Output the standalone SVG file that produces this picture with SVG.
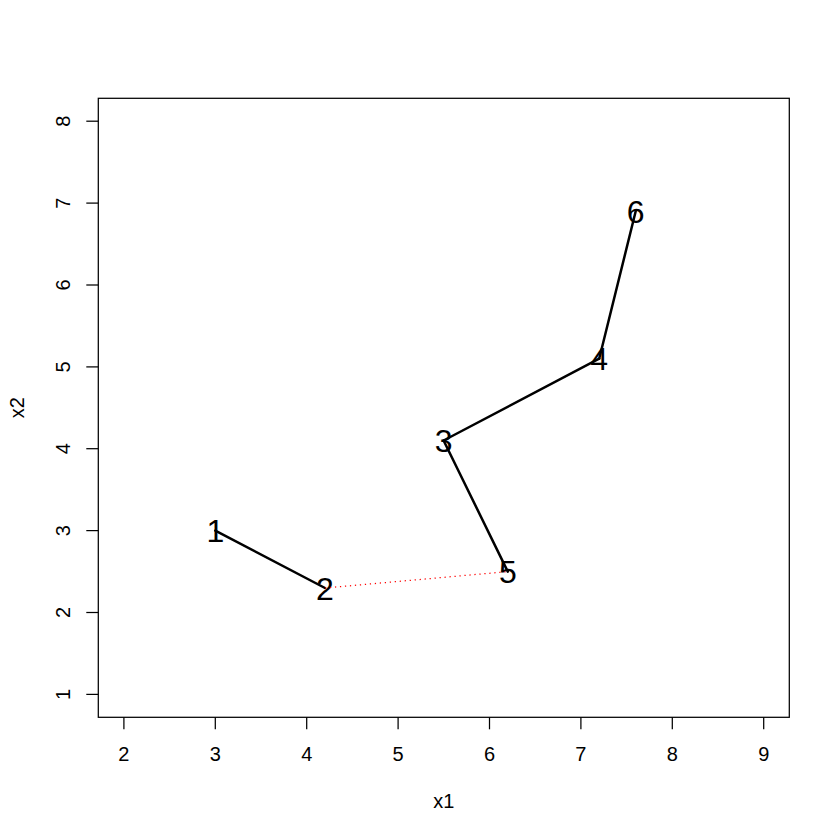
<svg xmlns="http://www.w3.org/2000/svg" width="840" height="840" viewBox="0 0 840 840">
<style>
  text { font-family: "Liberation Sans", Arial, sans-serif; fill: #000; }
  .tick { font-size: 20px; text-anchor: middle; }
  .axl { font-size: 20px; text-anchor: middle; }
  .pt { font-size: 32px; text-anchor: middle; }
  .ax line { stroke: #000; stroke-width: 1.25; }
  .edge { stroke: #000; stroke-width: 2.5; fill: none; stroke-linecap: round; }
  .dot { stroke: #ff0000; stroke-width: 1.25; stroke-dasharray: 1.25 3.75; fill: none; }
</style>
<rect width="840" height="840" fill="#fff"/>
<g id="frame">
  <rect x="98.3" y="98.3" width="691" height="619" fill="none" stroke="#000" stroke-width="1.25"/>
</g>
<g id="x-axis" class="ax">
  <line x1="123.9" y1="717.3" x2="123.9" y2="729.3"/>
  <line x1="215.3" y1="717.3" x2="215.3" y2="729.3"/>
  <line x1="306.7" y1="717.3" x2="306.7" y2="729.3"/>
  <line x1="398.1" y1="717.3" x2="398.1" y2="729.3"/>
  <line x1="489.5" y1="717.3" x2="489.5" y2="729.3"/>
  <line x1="580.9" y1="717.3" x2="580.9" y2="729.3"/>
  <line x1="672.3" y1="717.3" x2="672.3" y2="729.3"/>
  <line x1="763.7" y1="717.3" x2="763.7" y2="729.3"/>
  <text class="tick" x="123.9" y="761">2</text>
  <text class="tick" x="215.3" y="761">3</text>
  <text class="tick" x="306.7" y="761">4</text>
  <text class="tick" x="398.1" y="761">5</text>
  <text class="tick" x="489.5" y="761">6</text>
  <text class="tick" x="580.9" y="761">7</text>
  <text class="tick" x="672.3" y="761">8</text>
  <text class="tick" x="763.7" y="761">9</text>
  <text class="axl" x="443.8" y="808">x1</text>
</g>
<g id="y-axis" class="ax">
  <line x1="86.3" y1="694.4" x2="98.3" y2="694.4"/>
  <line x1="86.3" y1="612.5" x2="98.3" y2="612.5"/>
  <line x1="86.3" y1="530.6" x2="98.3" y2="530.6"/>
  <line x1="86.3" y1="448.7" x2="98.3" y2="448.7"/>
  <line x1="86.3" y1="366.9" x2="98.3" y2="366.9"/>
  <line x1="86.3" y1="285.0" x2="98.3" y2="285.0"/>
  <line x1="86.3" y1="203.1" x2="98.3" y2="203.1"/>
  <line x1="86.3" y1="121.2" x2="98.3" y2="121.2"/>
  <text class="tick" transform="translate(69.5,694.4) rotate(-90)">1</text>
  <text class="tick" transform="translate(69.5,612.5) rotate(-90)">2</text>
  <text class="tick" transform="translate(69.5,530.6) rotate(-90)">3</text>
  <text class="tick" transform="translate(69.5,448.7) rotate(-90)">4</text>
  <text class="tick" transform="translate(69.5,366.9) rotate(-90)">5</text>
  <text class="tick" transform="translate(69.5,285.0) rotate(-90)">6</text>
  <text class="tick" transform="translate(69.5,203.1) rotate(-90)">7</text>
  <text class="tick" transform="translate(69.5,121.2) rotate(-90)">8</text>
  <text class="axl" transform="translate(23.5,407.8) rotate(-90)">x2</text>
</g>
<g id="node1"><text class="pt" x="215.3" y="542.1">1</text></g>
<g id="node2"><text class="pt" x="325.0" y="599.5">2</text></g>
<g id="node3"><text class="pt" x="443.6" y="452.0">3</text></g>
<g id="node4"><text class="pt" x="599.2" y="370.2">4</text></g>
<g id="node5"><text class="pt" x="507.8" y="583.1">5</text></g>
<g id="node6"><text class="pt" x="635.7" y="222.8">6</text></g>
<g id="connectors">
  <line class="edge" x1="215.3" y1="530.6" x2="325.0" y2="588.0"/>
  <line class="dot" x1="325.0" y1="588.0" x2="507.8" y2="571.6"/>
  <line class="edge" x1="507.8" y1="571.6" x2="443.6" y2="440.5"/>
  <line class="edge" x1="443.6" y1="440.5" x2="599.2" y2="358.7"/>
  <line class="edge" x1="599.2" y1="358.7" x2="635.7" y2="211.3"/>
</g>
</svg>
